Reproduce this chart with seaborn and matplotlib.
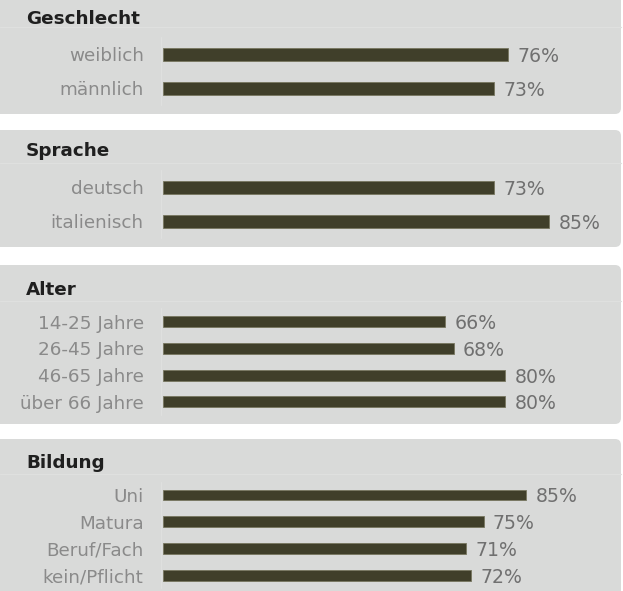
import matplotlib
matplotlib.use("Agg")
import matplotlib.pyplot as plt
from matplotlib.patches import FancyBboxPatch
from matplotlib.lines import Line2D
from matplotlib.transforms import Affine2D
import seaborn as sns
import pandas as pd

# --- data -------------------------------------------------------------
gender_labels = ["weiblich", "männlich"]
gender_values = [76, 73]

language_labels = ["deutsch", "italienisch"]
language_values = [73, 85]

age_labels = ["14-25 Jahre", "26-45 Jahre", "46-65 Jahre", "über 66 Jahre"]
age_values = [66, 68, 80, 80]

education_labels = ["Uni", "Matura", "Beruf/Fach", "kein/Pflicht"]
education_values = [85, 75, 71, 72]

panel_titles = ["Geschlecht", "Sprache", "Alter", "Bildung"]

# --- style ------------------------------------------------------------
sns.set_theme(style="white")
plt.rcParams["font.family"] = ["DejaVu Sans"]

W, H = 623, 591
DPI = 100
BG = "#d9dad9"
BAR = "#403f2a"
LABEL_C = "#8a8a8a"
VALUE_C = "#707070"
TITLE_C = "#1f1f1f"

fig = plt.figure(figsize=(W / DPI, H / DPI), dpi=DPI)
fig.patch.set_facecolor("white")

# pixel coordinates (origin top-left) -> figure coordinates
px = Affine2D().scale(1 / W, -1 / H).translate(0, 1) + fig.transFigure

# panel layout: (box top, box bottom, header line y, title y,
#                first row y, row spacing, px per percent, bar width)
panels = [
    (gender_labels, gender_values, -20, 114, 26.5, 19.0, 54.3, 34.0, 4.545, 0.37),
    (language_labels, language_values, 130, 247, 162.5, 150.5, 187.3, 34.0, 4.545, 0.37),
    (age_labels, age_values, 265, 424, 300.5, 290.5, 321.8, 26.7, 4.28, 0.41),
    (education_labels, education_values, 439, 610, 473.5, 462.5, 495.0, 26.7, 4.28, 0.41),
]

X0 = 162.5   # left edge of the bars
X1 = 612.0   # right edge of the bar axes

for title, (labels, values, top, bot, hline_y, title_y, row0, step,
            scale, bw) in zip(panel_titles, panels):
    # rounded grey card behind each group
    card = FancyBboxPatch((-20, top), 641, bot - top,
                          boxstyle="round,pad=0,rounding_size=6",
                          transform=px, facecolor=BG, edgecolor="none",
                          zorder=0)
    fig.add_artist(card)

    # faint header separator and axis line
    fig.add_artist(Line2D([0, 621], [hline_y, hline_y], transform=px,
                          color="#dfe0df", lw=0.9, zorder=1))
    n = len(labels)
    a_top = row0 - step / 2
    a_bot = row0 + step * (n - 0.5)
    fig.add_artist(Line2D([160.7, 160.7], [a_top, a_bot], transform=px,
                          color="#dfe0df", lw=0.9, zorder=1))

    fig.text(26.0 / W, 1 - title_y / H, title, fontsize=13.2,
             fontweight="bold", color=TITLE_C, ha="left", va="center")

    ax = fig.add_axes([X0 / W, 1 - a_bot / H, (X1 - X0) / W,
                       (a_bot - a_top) / H])
    ax.set_facecolor("none")
    df = pd.DataFrame({"label": labels, "value": values})
    sns.barplot(data=df, x="value", y="label", orient="h", color=BAR,
                width=bw, saturation=1, edgecolor="#77765f", linewidth=0.6,
                ax=ax)
    ax.set_xlim(0, (X1 - X0) / scale)
    ax.set_ylim(n - 0.5, -0.5)
    ax.set_xlabel("")
    ax.set_ylabel("")
    ax.set_xticks([])
    for s in ax.spines.values():
        s.set_visible(False)
    ax.tick_params(axis="y", length=0, pad=13.5, labelsize=13.2,
                   labelcolor=LABEL_C)
    for lab in ax.get_yticklabels():
        lab.set_verticalalignment("center_baseline")

    for i, v in enumerate(values):
        ax.annotate(f"{v}%", xy=(v, i), xytext=(6.8, 0),
                    textcoords="offset points", ha="left",
                    va="center_baseline", fontsize=13.6, color=VALUE_C)

fig.savefig("out.png", dpi=DPI, facecolor="white")
